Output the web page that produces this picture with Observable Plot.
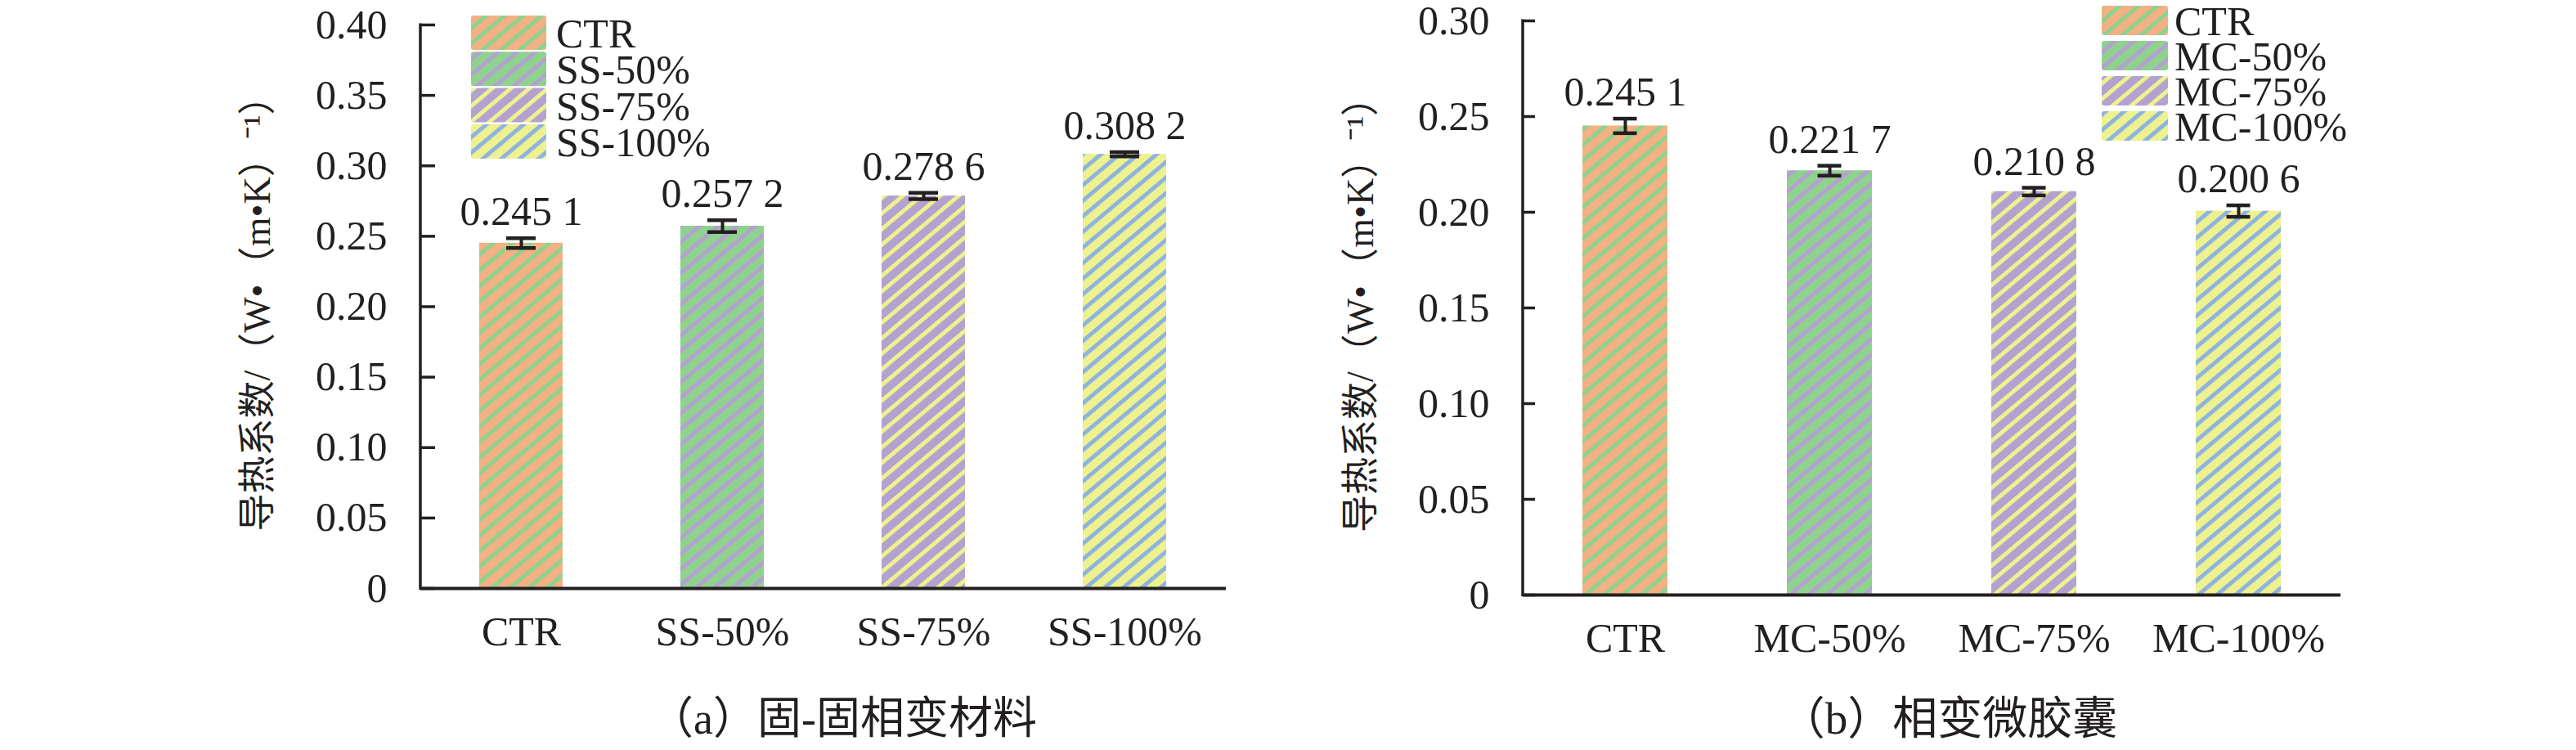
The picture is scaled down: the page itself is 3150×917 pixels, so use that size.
<!DOCTYPE html>
<html>
<head>
<meta charset="utf-8">
<script src="https://cdn.jsdelivr.net/npm/d3@7"></script>
<script src="https://cdn.jsdelivr.net/npm/@observablehq/plot@0.6"></script>
<style>
  html, body { margin: 0; padding: 0; background: #fff; }
  #root { position: relative; width: 3150px; height: 917px; overflow: hidden; background: #fff; }
  .panel { position: absolute; top: 0; }
  .caption { position: absolute; transform: translate(-50%, -50%); white-space: nowrap;
    font-family: 'Liberation Serif', 'Noto Sans CJK SC', serif; color: #231F20; }
</style>
</head>
<body>
<div id="root"></div>
<script>
// ---------- data ----------
const catsA = ["CTR", "SS-50%", "SS-75%", "SS-100%"];
const valsA = [0.2451, 0.2572, 0.2786, 0.3082];
const errsA = [0.0035, 0.0042, 0.0022, 0.0015];
const ticksA = [0, 0.05, 0.10, 0.15, 0.20, 0.25, 0.30, 0.35, 0.40];

const catsB = ["CTR", "MC-50%", "MC-75%", "MC-100%"];
const valsB = [0.2451, 0.2217, 0.2108, 0.2006];
const errsB = [0.0038, 0.0026, 0.0020, 0.0030];
const ticksB = [0, 0.05, 0.10, 0.15, 0.20, 0.25, 0.30];

const yTitle = "导热系数/（W•（m•K）⁻¹）";
const captionA = "（a）固-固相变材料";
const captionB = "（b）相变微胶囊";

// ---------- styles ----------
const baseColors = ["#F3B183", "#8ED28E", "#B3A1D0", "#EDF28E"];
const stripeColors = ["#8ED28E", "#B3A1D0", "#EDF28E", "#8FB3DF"];
const INK = "#231F20";
const FONT = "'Liberation Serif', 'Noto Sans CJK SC', serif";

const fmtVal = v => { const s = v.toFixed(4); return s.slice(0, 5) + " " + s.slice(5); };
const fmtTick = d => d === 0 ? "0" : d.toFixed(2);

function panel(cfg) {
  const data = cfg.cats.map((c, i) => ({cat: c, v: cfg.vals[i], e: cfg.errs[i]}));
  const fills = cfg.cats.map((c, i) => `url(#${cfg.id}-p${i})`);
  const H = 830;
  const svg = Plot.plot({
    width: 1575, height: H,
    marginLeft: cfg.ml, marginRight: cfg.mr, marginTop: cfg.mt, marginBottom: H - cfg.bottom,
    style: {fontFamily: FONT, fontSize: "50px", color: INK, background: "transparent", overflow: "visible"},
    x: {domain: cfg.cats, paddingInner: 0.585, paddingOuter: 0.2925, label: null},
    y: {domain: [0, cfg.ymax], label: null},
    color: {domain: cfg.cats, range: fills},
    marks: [
      Plot.barY(data, {x: "cat", y: "v", fill: "cat"}),
      Plot.ruleX(data, {x: "cat", y1: d => d.v - d.e, y2: d => d.v + d.e, stroke: INK, strokeWidth: 4}),
      Plot.tickY(data, {x: "cat", y: d => d.v + d.e, stroke: INK, strokeWidth: 4.5, inset: cfg.capInset}),
      Plot.tickY(data, {x: "cat", y: d => d.v - d.e, stroke: INK, strokeWidth: 4.5, inset: cfg.capInset}),
      Plot.text(data, {x: "cat", y: d => d.v + d.e, text: d => fmtVal(d.v), dy: -16, lineAnchor: "bottom",
        fontSize: 50, fill: INK}),
      Plot.ruleY([0], {stroke: INK, strokeWidth: 4}),
      (index, scales, values, dims) => {
        const l = d3.create("svg:line")
          .attr("x1", dims.marginLeft).attr("x2", dims.marginLeft)
          .attr("y1", dims.marginTop - 1.5).attr("y2", dims.height - dims.marginBottom + 2)
          .attr("stroke", INK).attr("stroke-width", 3.5);
        return l.node();
      },
      Plot.axisY({ticks: cfg.ticks, tickFormat: fmtTick, tickSize: -cfg.tickLen, tickPadding: 41 + cfg.tickLen,
        stroke: INK, strokeWidth: 3.5, fontSize: 50, fill: INK, label: null}),
      Plot.axisX({tickSize: 0, tickPadding: 34, fontSize: 50, fill: INK, label: null}),
      Plot.text([yTitle], {text: d => d, frameAnchor: "left", dx: cfg.titleDx, dy: -3, rotate: -90,
        textAnchor: "middle", lineAnchor: "middle", fontSize: 46, fill: INK})
    ]
  });
  const sel = d3.select(svg);
  const defs = sel.insert("defs", ":first-child");
  const P = 14.6;
  cfg.cats.forEach((c, i) => {
    const p = defs.append("pattern").attr("id", `${cfg.id}-p${i}`)
      .attr("patternUnits", "userSpaceOnUse").attr("width", P).attr("height", P)
      .attr("patternTransform", "rotate(-40)");
    p.append("rect").attr("width", P).attr("height", P).attr("fill", baseColors[i]);
    p.append("rect").attr("width", P).attr("height", 5).attr("fill", stripeColors[i]);
  });
  // legend
  const lg = sel.append("g").attr("text-anchor", "start");
  cfg.cats.forEach((c, i) => {
    const y = cfg.leg.y + i * cfg.leg.step;
    lg.append("rect").attr("x", cfg.leg.x).attr("y", y).attr("width", cfg.leg.w).attr("height", cfg.leg.h)
      .attr("rx", 3).attr("fill", fills[i]);
    lg.append("text").attr("x", cfg.leg.tx).attr("y", y + cfg.leg.h / 2).attr("dy", "0.36em")
      .attr("text-anchor", "start")
      .attr("font-size", 50).attr("font-family", FONT).attr("fill", INK).text(c);
  });
  const div = document.createElement("div");
  div.className = "panel";
  div.style.left = cfg.left + "px";
  div.appendChild(svg);
  document.getElementById("root").appendChild(div);

  const cap = document.createElement("div");
  cap.className = "caption";
  cap.style.left = cfg.capX + "px";
  cap.style.top = "873px";
  cap.style.fontSize = cfg.capSize + "px";
  cap.textContent = cfg.caption;
  document.getElementById("root").appendChild(cap);
}

panel({id: "a", left: 0, cats: catsA, vals: valsA, errs: errsA, ticks: ticksA, ymax: 0.40,
  ml: 514, mr: 76, mt: 30, bottom: 719, capInset: 33, tickLen: 18, titleDx: -199,
  leg: {x: 576, y: 19, step: 44.3, w: 92, h: 42, tx: 680},
  caption: captionA, capX: 1031, capSize: 54});

panel({id: "b", left: 1575, cats: catsB, vals: valsB, errs: errsB, ticks: ticksB, ymax: 0.30,
  ml: 287, mr: 288, mt: 25, bottom: 727, capInset: 37.5, tickLen: 15, titleDx: -198,
  leg: {x: 995, y: 7, step: 43, w: 81, h: 36, tx: 1084},
  caption: captionB, capX: 2383, capSize: 55});
</script>
</body>
</html>
